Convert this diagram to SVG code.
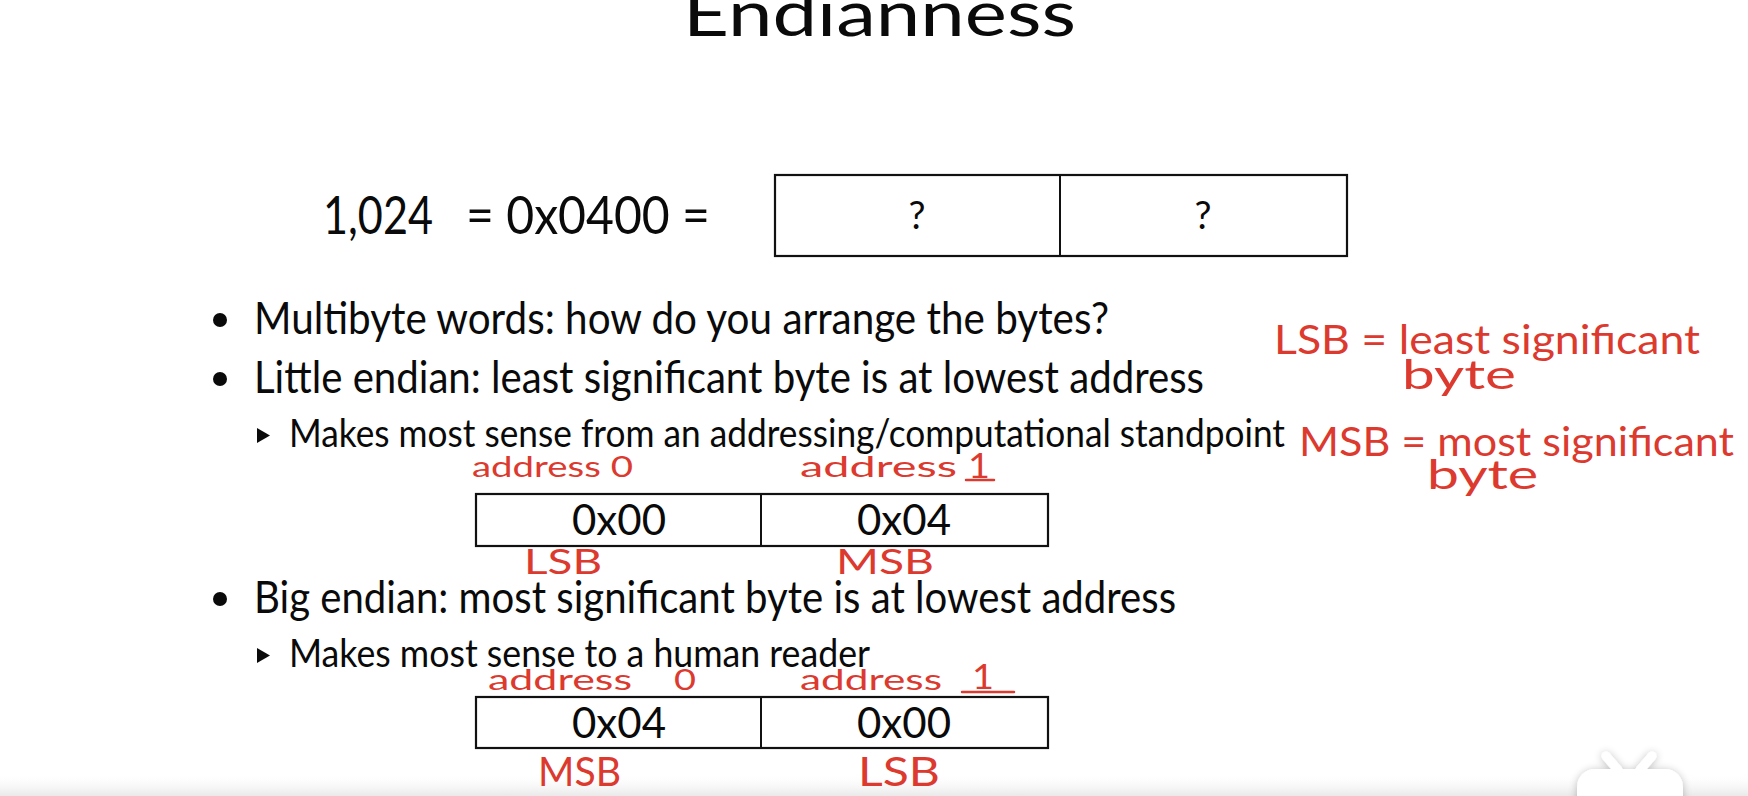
<svg xmlns="http://www.w3.org/2000/svg" width="1748" height="796" viewBox="0 0 1748 796">
  <defs>
    <style>
      .slide { font-family: "Lato", "Open Sans", "Liberation Sans", sans-serif; fill: #0a0a0a; }
      .title { font-size: 62px; }
      .eq { font-size: 52px; }
      .q { font-size: 38px; text-anchor: middle; }
      .bullet { font-size: 44px; }
      .sub { font-size: 38px; }
      .cell { font-size: 42px; text-anchor: middle; }
      .box { fill: #ffffff; stroke: #111111; stroke-width: 2.2; }
      .div { stroke: #111111; stroke-width: 2; }
      .dot { fill: #0a0a0a; }
      .ink { font-family: "Lato", "Open Sans", "DejaVu Sans", sans-serif; font-weight: 400; fill: #dc3a2f; }
      .ink-s { font-size: 28px; }
      .ink-m { font-size: 34px; }
      .ink-l { font-size: 40px; }
      .ink-line { stroke: #dc3a2f; stroke-width: 2.5; fill: none; stroke-linecap: round; }
    </style>
    <linearGradient id="footFade" x1="0" y1="0" x2="0" y2="1">
      <stop offset="0" stop-color="#ffffff" stop-opacity="0"/>
      <stop offset="1" stop-color="#e9e9e9" stop-opacity="1"/>
    </linearGradient>
    <filter id="softShadow" x="-30%" y="-30%" width="160%" height="160%">
      <feGaussianBlur in="SourceAlpha" stdDeviation="4"/>
      <feOffset dx="0" dy="1" result="b"/>
      <feComponentTransfer><feFuncA type="linear" slope="0.25"/></feComponentTransfer>
      <feMerge><feMergeNode/><feMergeNode in="SourceGraphic"/></feMerge>
    </filter>
  </defs>

  <rect x="0" y="0" width="1748" height="796" fill="#ffffff"/>
  <rect x="0" y="772" width="1748" height="24" fill="url(#footFade)"/>

  <!-- Heading -->
  <g id="title">
    <text class="slide title" x="683" y="36" textLength="393" lengthAdjust="spacingAndGlyphs">Endianness</text>
  </g>

  <!-- Value being stored -->
  <g id="equation">
    <text class="slide eq" x="323" y="234" textLength="110" lengthAdjust="spacingAndGlyphs">1,024</text>
    <text class="slide eq" x="466" y="234" textLength="244" lengthAdjust="spacingAndGlyphs">= 0x0400 =</text>
  </g>

  <g id="unknown-word">
    <rect class="box" x="775" y="175" width="572" height="81"/>
    <line class="div" x1="1060" y1="175" x2="1060" y2="256"/>
    <text class="slide q" x="917" y="229">?</text>
    <text class="slide q" x="1203" y="229">?</text>
  </g>

  <!-- Bullet list -->
  <g id="bullet-multibyte">
    <circle class="dot" cx="220" cy="320" r="7"/>
    <text class="slide bullet" x="254" y="334" textLength="855" lengthAdjust="spacingAndGlyphs">Multibyte words: how do you arrange the bytes?</text>
  </g>
  <g id="bullet-little">
    <circle class="dot" cx="220" cy="379" r="7"/>
    <text class="slide bullet" x="254" y="393" textLength="950" lengthAdjust="spacingAndGlyphs">Little endian: least significant byte is at lowest address</text>
    <polygon class="dot" points="257,428 270,435.5 257,443"/>
    <text class="slide sub" x="289" y="447" textLength="996" lengthAdjust="spacingAndGlyphs">Makes most sense from an addressing/computational standpoint</text>
  </g>

  <g id="little-endian-word">
    <rect class="box" x="476" y="494" width="572" height="52"/>
    <line class="div" x1="761" y1="494" x2="761" y2="546"/>
    <text class="slide cell" x="619" y="535">0x00</text>
    <text class="slide cell" x="904" y="535">0x04</text>
  </g>

  <g id="bullet-big">
    <circle class="dot" cx="220" cy="599" r="7"/>
    <text class="slide bullet" x="254" y="613" textLength="922" lengthAdjust="spacingAndGlyphs">Big endian: most significant byte is at lowest address</text>
    <polygon class="dot" points="257,648 270,655.5 257,663"/>
    <text class="slide sub" x="289" y="667" textLength="581" lengthAdjust="spacingAndGlyphs">Makes most sense to a human reader</text>
  </g>

  <g id="big-endian-word">
    <rect class="box" x="476" y="697" width="572" height="51"/>
    <line class="div" x1="761" y1="697" x2="761" y2="748"/>
    <text class="slide cell" x="619" y="738">0x04</text>
    <text class="slide cell" x="904" y="738">0x00</text>
  </g>

  <!-- Pen notes -->
  <g id="note-little-addresses">
    <text class="ink ink-s" x="472" y="477" textLength="161" lengthAdjust="spacingAndGlyphs">address 0</text>
    <text class="ink ink-s" x="800" y="477" textLength="157" lengthAdjust="spacingAndGlyphs">address</text>
    <text class="ink ink-m" x="968" y="478" textLength="22" lengthAdjust="spacingAndGlyphs">1</text>
    <line class="ink-line" x1="966" y1="480" x2="994" y2="480"/>
  </g>
  <g id="note-little-bytes">
    <text class="ink ink-m" x="524" y="574" textLength="78" lengthAdjust="spacingAndGlyphs">LSB</text>
    <text class="ink ink-m" x="836" y="574" textLength="98" lengthAdjust="spacingAndGlyphs">MSB</text>
  </g>
  <g id="note-big-addresses">
    <text class="ink ink-s" x="488" y="690" textLength="144" lengthAdjust="spacingAndGlyphs">address</text>
    <text class="ink ink-s" x="674" y="690" textLength="22" lengthAdjust="spacingAndGlyphs">0</text>
    <text class="ink ink-s" x="800" y="690" textLength="142" lengthAdjust="spacingAndGlyphs">address</text>
    <text class="ink ink-m" x="972" y="689" textLength="22" lengthAdjust="spacingAndGlyphs">1</text>
    <line class="ink-line" x1="962" y1="692" x2="1014" y2="692"/>
  </g>
  <g id="note-big-bytes">
    <text class="ink ink-l" x="538" y="786" textLength="83" lengthAdjust="spacingAndGlyphs">MSB</text>
    <text class="ink ink-l" x="858" y="786" textLength="82" lengthAdjust="spacingAndGlyphs">LSB</text>
  </g>
  <g id="note-definitions">
    <text class="ink ink-l" x="1274" y="354" textLength="426" lengthAdjust="spacingAndGlyphs">LSB = least significant</text>
    <text class="ink ink-l" x="1402" y="389" textLength="114" lengthAdjust="spacingAndGlyphs">byte</text>
    <text class="ink ink-l" x="1299" y="456" textLength="435" lengthAdjust="spacingAndGlyphs">MSB = most significant</text>
    <text class="ink ink-l" x="1427" y="489" textLength="111" lengthAdjust="spacingAndGlyphs">byte</text>
  </g>

  <!-- Corner badge -->
  <g id="badge" filter="url(#softShadow)">
    <line x1="1606" y1="756" x2="1618" y2="770" stroke="#ffffff" stroke-width="9" stroke-linecap="round"/>
    <line x1="1652" y1="756" x2="1640" y2="770" stroke="#ffffff" stroke-width="9" stroke-linecap="round"/>
    <rect x="1577" y="769" width="106" height="50" rx="18" fill="#ffffff"/>
  </g>
</svg>
